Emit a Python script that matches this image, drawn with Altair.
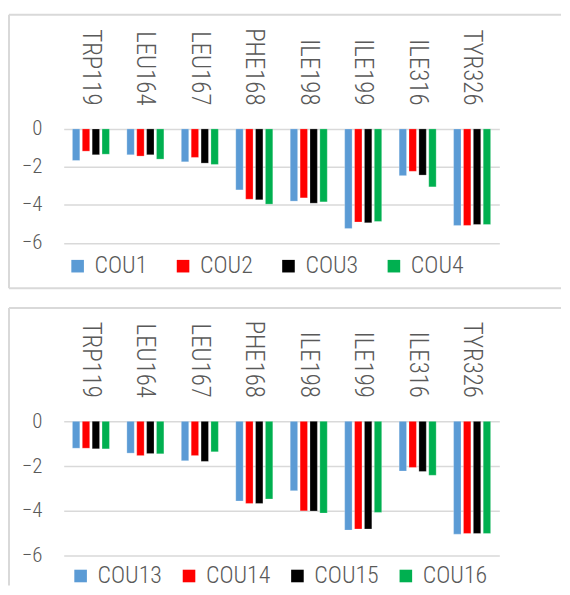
import altair as alt
import pandas as pd

residues = ["TRP119", "LEU164", "LEU167", "PHE168", "ILE198", "ILE199", "ILE316", "TYR326"]

series_top = ["COU1", "COU2", "COU3", "COU4"]
cou1 = [-1.66, -1.36, -1.73, -3.21, -3.80, -5.24, -2.46, -5.08]
cou2 = [-1.17, -1.43, -1.50, -3.70, -3.63, -4.90, -2.23, -5.08]
cou3 = [-1.36, -1.36, -1.80, -3.73, -3.91, -4.94, -2.43, -5.03]
cou4 = [-1.33, -1.59, -1.87, -3.96, -3.84, -4.87, -3.05, -5.03]

series_bot = ["COU13", "COU14", "COU15", "COU16"]
cou13 = [-1.20, -1.42, -1.76, -3.56, -3.10, -4.86, -2.22, -5.04]
cou14 = [-1.20, -1.53, -1.53, -3.67, -4.00, -4.81, -2.06, -5.01]
cou15 = [-1.23, -1.44, -1.79, -3.67, -4.01, -4.81, -2.24, -5.01]
cou16 = [-1.23, -1.45, -1.36, -3.47, -4.10, -4.07, -2.41, -5.01]

y_ticks = [0, -2, -4, -6]
colors = ["#5B9BD5", "#FF0000", "#000000", "#00B050"]

FONT = "Roboto Condensed, Liberation Sans Narrow, DejaVu Sans Condensed, Roboto, sans-serif"
GRAY = "#595959"
GRID = "#D9D9D9"
FRAME = "#D9D9D9"
W = 438


def panel(names, values, height, legend_x, legend_y, col_pad, frame_top, frame_bottom, draw_bottom):
    rows = []
    for name, vals in zip(names, values):
        for r, v in zip(residues, vals):
            rows.append({"residue": r, "series": name, "value": v})
    df = pd.DataFrame(rows)

    bars = alt.Chart(df).mark_bar(stroke="white", strokeOpacity=0.5, strokeWidth=0.5).encode(
        x=alt.X("residue:N", sort=residues,
                scale=alt.Scale(paddingInner=0.32, paddingOuter=0.16),
                axis=alt.Axis(orient="top", labelAngle=90, labelAlign="right",
                              labelBaseline="middle", labelPadding=24, ticks=False,
                              domain=False, title=None, labelFontSize=25,
                              labelColor=GRAY, labelFont=FONT, labelFontWeight=300)),
        xOffset=alt.XOffset("series:N", sort=names,
                            scale=alt.Scale(paddingInner=0.25, paddingOuter=0)),
        y=alt.Y("value:Q", scale=alt.Scale(domain=[-6, 0], nice=False, zero=False),
                axis=alt.Axis(values=y_ticks, title=None, domain=False, ticks=False,
                              labelPadding=22, labelFontSize=21, labelColor=GRAY,
                              labelFont=FONT, labelFontWeight=300, gridColor=GRID,
                              gridWidth=1.5)),
        color=alt.Color("series:N", sort=names,
                        scale=alt.Scale(domain=names, range=colors),
                        legend=alt.Legend(orient="none", legendX=legend_x, legendY=legend_y,
                                          direction="horizontal", title=None,
                                          symbolType="square", symbolSize=160,
                                          symbolStrokeWidth=0, labelFontSize=24,
                                          labelColor=GRAY, labelFont=FONT,
                                          labelFontWeight=300, labelOffset=5,
                                          columnPadding=col_pad, padding=0)),
    )

    one = pd.DataFrame({"k": [0]})
    layers = [bars]
    layers.append(alt.Chart(one).mark_rule(color=FRAME, strokeWidth=2, clip=False).encode(
        x=alt.value(-55), x2=alt.value(W + 62), y=alt.value(frame_top)))
    layers.append(alt.Chart(one).mark_rule(color=FRAME, strokeWidth=2, clip=False).encode(
        x=alt.value(-55), y=alt.value(frame_top), y2=alt.value(frame_bottom)))
    if draw_bottom:
        layers.append(alt.Chart(one).mark_rule(color=FRAME, strokeWidth=2, clip=False).encode(
            x=alt.value(-55), x2=alt.value(W + 62), y=alt.value(frame_bottom)))
    return alt.layer(*layers).properties(width=W, height=height)


top = panel(series_top, [cou1, cou2, cou3, cou4], 114.6, 2, 126, 23, -114.7, 160.3, True)
bot = panel(series_bot, [cou13, cou14, cou15, cou16], 135, 5, 143.5, 15, -114, 165, False)

chart = alt.vconcat(top, bot, spacing=17).resolve_scale(
    color="independent", x="independent", y="independent", xOffset="independent"
).properties(
    padding={"left": 0, "top": 4, "right": 0, "bottom": 0}
).configure_view(stroke=None)

chart.save("out.html", embed_options={"renderer": "svg", "actions": False})
